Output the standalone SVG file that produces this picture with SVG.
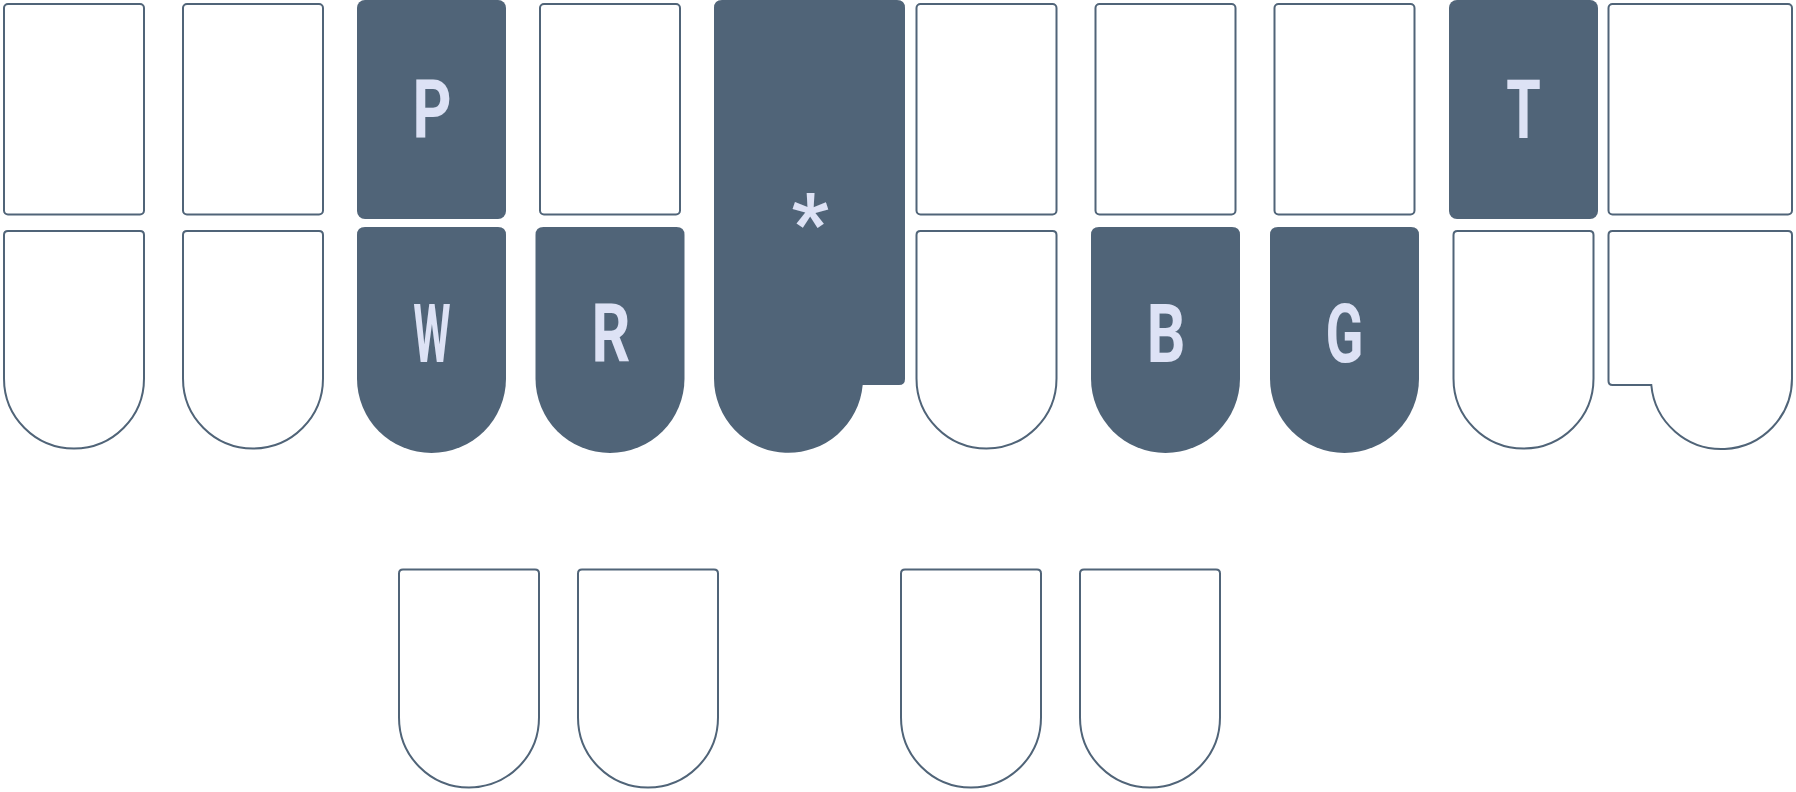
<svg xmlns="http://www.w3.org/2000/svg" width="1796" height="792" viewBox="0 0 1796 792">
<style>
.o{fill:#ffffff;stroke:#506478;stroke-width:2}
.f{fill:#506478}
.t{fill:#dde2f5;font-family:Roboto,"Liberation Sans",sans-serif;font-weight:700;font-size:82px;text-anchor:middle}
</style>
<rect width="1796" height="792" fill="#ffffff"/>
<g id="k1-top"><rect class="o" x="4" y="4" width="140" height="210.5" rx="4"/></g>
<g id="k1-bot"><path class="o" d="M4 235Q4 231 8 231H140Q144 231 144 235V378.5A70 70 0 0 1 4 378.5Z"/></g>
<g id="k2-top"><rect class="o" x="183" y="4" width="140" height="210.5" rx="4"/></g>
<g id="k2-bot"><path class="o" d="M183 235Q183 231 187 231H319Q323 231 323 235V378.5A70 70 0 0 1 183 378.5Z"/></g>
<g id="key-P"><rect class="f" x="357" y="0" width="149" height="219" rx="8"/><text class="t" transform="translate(432,138) scale(0.74,1)">P</text></g>
<g id="key-W"><path class="f" d="M357 235Q357 227 365 227H498Q506 227 506 235V378.5A74.5 74.5 0 0 1 357 378.5Z"/><text class="t" transform="translate(432,362) scale(0.52,1)">W</text></g>
<g id="k4-top"><rect class="o" x="540" y="4" width="140" height="210.5" rx="4"/></g>
<g id="key-R"><path class="f" d="M535.5 235Q535.5 227 543.5 227H676.5Q684.5 227 684.5 235V378.5A74.5 74.5 0 0 1 535.5 378.5Z"/><text class="t" transform="translate(611,362) scale(0.74,1)">R</text></g>
<g id="key-star"><path class="f" d="M722 0H897Q905 0 905 8V379Q905 385 899 385H862.7A74.5 74.5 0 0 1 714 378.5V8Q714 0 722 0Z"/><text class="t" transform="translate(810,251)">*</text></g>
<g id="k6-top"><rect class="o" x="916.5" y="4" width="140" height="210.5" rx="4"/></g>
<g id="k6-bot"><path class="o" d="M916.5 235Q916.5 231 920.5 231H1052.5Q1056.5 231 1056.5 235V378.5A70 70 0 0 1 916.5 378.5Z"/></g>
<g id="k7-top"><rect class="o" x="1095.5" y="4" width="140" height="210.5" rx="4"/></g>
<g id="key-B"><path class="f" d="M1091 235Q1091 227 1099 227H1232Q1240 227 1240 235V378.5A74.5 74.5 0 0 1 1091 378.5Z"/><text class="t" transform="translate(1166,362) scale(0.74,1)">B</text></g>
<g id="k8-top"><rect class="o" x="1274.5" y="4" width="140" height="210.5" rx="4"/></g>
<g id="key-G"><path class="f" d="M1270 235Q1270 227 1278 227H1411Q1419 227 1419 235V378.5A74.5 74.5 0 0 1 1270 378.5Z"/><text class="t" transform="translate(1344.5,362) scale(0.68,1)">G</text></g>
<g id="key-T"><rect class="f" x="1449" y="0" width="149" height="219" rx="8"/><text class="t" transform="translate(1523.5,138) scale(0.68,1)">T</text></g>
<g id="k9-bot"><path class="o" d="M1453.5 235Q1453.5 231 1457.5 231H1589.5Q1593.5 231 1593.5 235V378.5A70 70 0 0 1 1453.5 378.5Z"/></g>
<g id="k10-top"><rect class="o" x="1608.5" y="4" width="183.5" height="210.5" rx="4"/></g>
<g id="k10-bot"><path class="o" d="M1608.5 235Q1608.5 231 1612.5 231H1788Q1792 231 1792 235V378.5A70.5 70.5 0 0 1 1651.3 385H1612.5Q1608.5 385 1608.5 381Z"/></g>
<g id="thumb-A"><path class="o" d="M399 573.5Q399 569.5 403 569.5H535Q539 569.5 539 573.5V717.5A70 70 0 0 1 399 717.5Z"/></g>
<g id="thumb-O"><path class="o" d="M578 573.5Q578 569.5 582 569.5H714Q718 569.5 718 573.5V717.5A70 70 0 0 1 578 717.5Z"/></g>
<g id="thumb-E"><path class="o" d="M901 573.5Q901 569.5 905 569.5H1037Q1041 569.5 1041 573.5V717.5A70 70 0 0 1 901 717.5Z"/></g>
<g id="thumb-U"><path class="o" d="M1080 573.5Q1080 569.5 1084 569.5H1216Q1220 569.5 1220 573.5V717.5A70 70 0 0 1 1080 717.5Z"/></g>
<g id="connectors"></g>
</svg>
